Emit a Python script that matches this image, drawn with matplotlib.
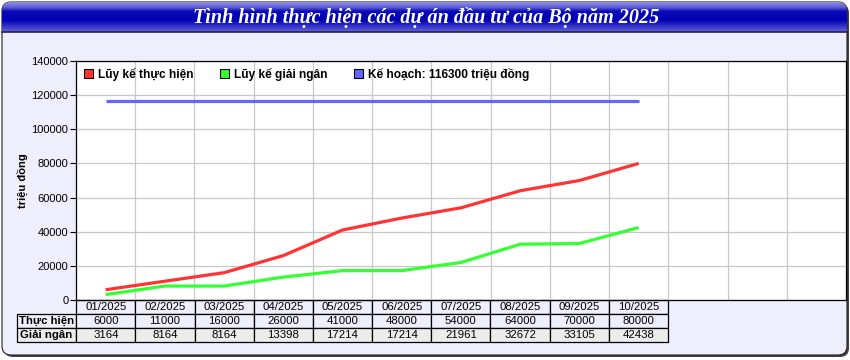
import numpy as np
import matplotlib
matplotlib.use('Agg')
import matplotlib.pyplot as plt
from matplotlib.patches import FancyBboxPatch, Patch
from matplotlib.colors import LinearSegmentedColormap

plt.rcParams['font.family'] = ['Liberation Sans', 'DejaVu Sans']

title = 'Tình hình thực hiện các dự án đầu tư của Bộ năm 2025'
months = ['01/2025', '02/2025', '03/2025', '04/2025', '05/2025',
          '06/2025', '07/2025', '08/2025', '09/2025', '10/2025']
thuc_hien = [6000, 11000, 16000, 26000, 41000, 48000, 54000, 64000, 70000, 80000]
giai_ngan = [3164, 8164, 8164, 13398, 17214, 17214, 21961, 32672, 33105, 42438]
ke_hoach = 116300
row_labels = ['Thực hiện', 'Giải ngân']
legend_labels = ['Lũy kế thực hiện', 'Lũy kế giải ngân', 'Kế hoạch: 116300 triệu đồng']
n_slots = 13

c_red = '#ff3333'
c_green = '#33ff33'
c_blue = '#6666ff'
panel_col = '#eeeefc'

W, H = 850, 360
fig = plt.figure(figsize=(W / 100, H / 100), dpi=100)
fig.patch.set_facecolor('white')

# background panel + title bar, drawn in pixel coords
bg = fig.add_axes([0, 0, 1, 1], zorder=-10)
bg.set_xlim(0, W)
bg.set_ylim(H, 0)
bg.axis('off')
shadow = FancyBboxPatch((4, 4), 845, 353, boxstyle='round,pad=0,rounding_size=9',
                        fc='#444444', ec='none')
bg.add_patch(shadow)
panel = FancyBboxPatch((2, 2), 845, 353, boxstyle='round,pad=0,rounding_size=9',
                       fc=panel_col, ec='#222222', lw=0.8)
bg.add_patch(panel)

grad = LinearSegmentedColormap.from_list('bar', [
    (0.0, '#9090e0'), (0.18, '#5a5ad8'), (0.3, '#0a0ab8'),
    (0.6, '#0000b0'), (1.0, '#6060e0')])
bar_img = bg.imshow(np.linspace(0, 1, 60).reshape(-1, 1), cmap=grad, aspect='auto',
                    extent=[2, 847, 32, 2], zorder=2)
bar_clip = FancyBboxPatch((2, 2), 845, 40, boxstyle='round,pad=0,rounding_size=9',
                          fc='none', ec='none', transform=bg.transData)
bg.add_patch(bar_clip)
bar_img.set_clip_path(bar_clip)
bg.plot([2, 847], [32, 32], color='#222244', lw=1.2, zorder=3)
bg.text(426, 17, title, color='white', fontsize=14.5, fontweight='bold', fontstyle='italic',
        family=['Liberation Serif', 'DejaVu Serif'], ha='center', va='center', zorder=4)

# main plot
ax = fig.add_axes([76 / W, 1 - 300 / H, 770 / W, 239 / H])
ax.set_facecolor('white')
x = np.arange(len(months))
ax.plot(x, thuc_hien, color=c_red, lw=2.3, solid_capstyle='butt')
ax.plot(x, giai_ngan, color=c_green, lw=2.3, solid_capstyle='butt')
ax.plot(x, [ke_hoach] * len(months), color=c_blue, lw=2.3, solid_capstyle='butt')

ax.set_xlim(-0.5, n_slots - 0.5)
ax.set_ylim(0, 140000)
ax.set_yticks(np.arange(0, 140001, 20000))
ax.set_xticks(np.arange(0.5, n_slots - 0.5, 1))
ax.set_xticklabels([])
ax.tick_params(axis='x', length=0)
ax.tick_params(axis='y', length=4, width=0.8, labelsize=8, pad=1.5, color='black')
ax.grid(True, color='#c8c8c8', lw=0.9)
ax.set_axisbelow(True)
for s in ax.spines.values():
    s.set_color('black')
    s.set_linewidth(0.9)

ax.set_ylabel('triệu đồng', fontsize=8, fontweight='bold')
ax.yaxis.set_label_coords((28 - 76) / 770, 0.5)

handles = [Patch(fc=c, ec='black', lw=0.8) for c in (c_red, c_green, c_blue)]
ax.legend(handles, legend_labels, loc='upper left', bbox_to_anchor=(8 / 770, 1 - 7 / 239),
          ncol=3, frameon=False, borderpad=0, borderaxespad=0, handlelength=0.75,
          handleheight=0.75, handletextpad=0.4, columnspacing=2.25,
          prop={'size': 8.6, 'weight': 'bold'})

# data table under the plot (first column holds the row labels)
cell_text = [[row_labels[0]] + [str(v) for v in thuc_hien],
             [row_labels[1]] + [str(v) for v in giai_ngan]]
tbl = ax.table(cellText=cell_text, colLabels=[''] + months, cellLoc='center',
               bbox=[(17 - 76) / 770, -42 / 239, 651 / 770, 42 / 239])
tbl.auto_set_font_size(False)
tbl.set_fontsize(8.2)
for (r, c), cell in tbl.get_celld().items():
    cell.set_edgecolor('black')
    cell.set_linewidth(0.9)
    if r == 2:
        cell.set_facecolor('#ececec')
    else:
        cell.set_facecolor(panel_col)
    if r == 0 and c == 0:
        cell.set_visible(False)
    if c == 0:
        cell.get_text().set_fontweight('bold')

fig.savefig('out.png', dpi=100)
